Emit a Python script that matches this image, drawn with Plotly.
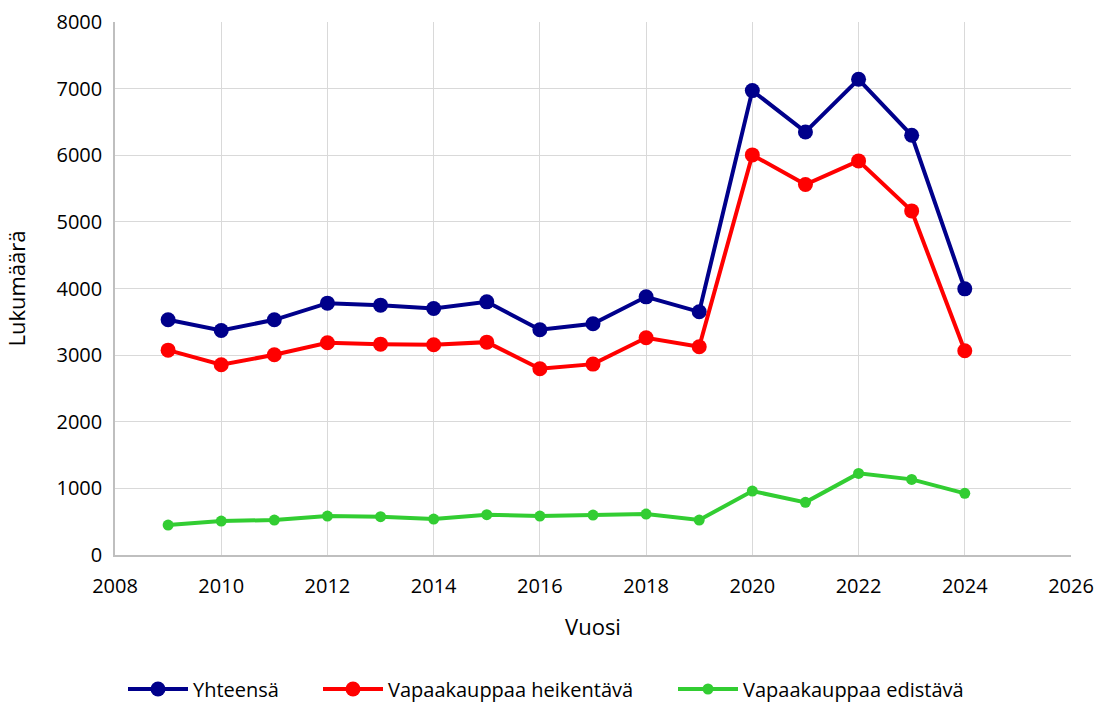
import plotly.graph_objects as go

years = list(range(2009, 2025))
yhteensa = [3530, 3370, 3530, 3780, 3750, 3700, 3800, 3380, 3470, 3875, 3650, 6970, 6350, 7140, 6300, 3995]
heikentava = [3075, 2855, 3005, 3185, 3165, 3155, 3195, 2795, 2865, 3260, 3125, 6005, 5560, 5915, 5165, 3065]
edistava = [450, 510, 525, 585, 575, 540, 605, 585, 600, 615, 525, 960, 790, 1225, 1135, 925]

names = ["Yhteensä", "Vapaakauppaa heikentävä", "Vapaakauppaa edistävä"]
colors = ["#00008B", "#FF0000", "#32CD32"]
series = [yhteensa, heikentava, edistava]
msizes = [15, 15, 11]
legend_ids = ["legend", "legend2", "legend3"]

W, H = 1098, 706

fig = go.Figure()
for n, c, s, ms, lg in zip(names, colors, series, msizes, legend_ids):
    fig.add_trace(go.Scatter(
        x=years, y=s, name=n, mode="lines+markers",
        line=dict(color=c, width=4),
        marker=dict(color=c, size=ms),
        legend=lg,
    ))

font = "Open Sans, Liberation Sans, sans-serif"
leg_common = dict(orientation="h", xref="container", yref="container",
                  xanchor="left", y=1 - 689 / H, yanchor="middle",
                  font=dict(size=20), itemwidth=60, bgcolor="rgba(0,0,0,0)")
fig.update_layout(
    width=W, height=H,
    margin=dict(l=115, r=27, t=22, b=151),
    paper_bgcolor="white", plot_bgcolor="white",
    font=dict(family=font, size=20, color="black"),
    showlegend=True,
    legend=dict(x=123 / W, **leg_common),
    legend2=dict(x=318 / W, **leg_common),
    legend3=dict(x=673 / W, **leg_common),
    xaxis=dict(range=[2008, 2026], dtick=2, tick0=2008,
               showgrid=True, gridcolor="#d9d9d9", gridwidth=1,
               showline=True, linecolor="#bfbfbf", linewidth=1.5,
               ticks="", zeroline=False, automargin=False,
               ticklabelstandoff=12,
               title=dict(text="Vuosi", font=dict(size=22), standoff=22),
               tickfont=dict(size=20)),
    yaxis=dict(range=[0, 8000], dtick=1000,
               showgrid=True, gridcolor="#d9d9d9", gridwidth=1,
               showline=True, linecolor="#bfbfbf", linewidth=1.5,
               ticks="", zeroline=False, automargin=False,
               ticklabelstandoff=7,
               title=dict(text="Lukumäärä", font=dict(size=22), standoff=25),
               tickfont=dict(size=20)),
)

fig.write_html(
    "out.html",
    config={"displayModeBar": False},
    post_script="document.body.style.margin='0';document.body.style.overflow='hidden';",
)
